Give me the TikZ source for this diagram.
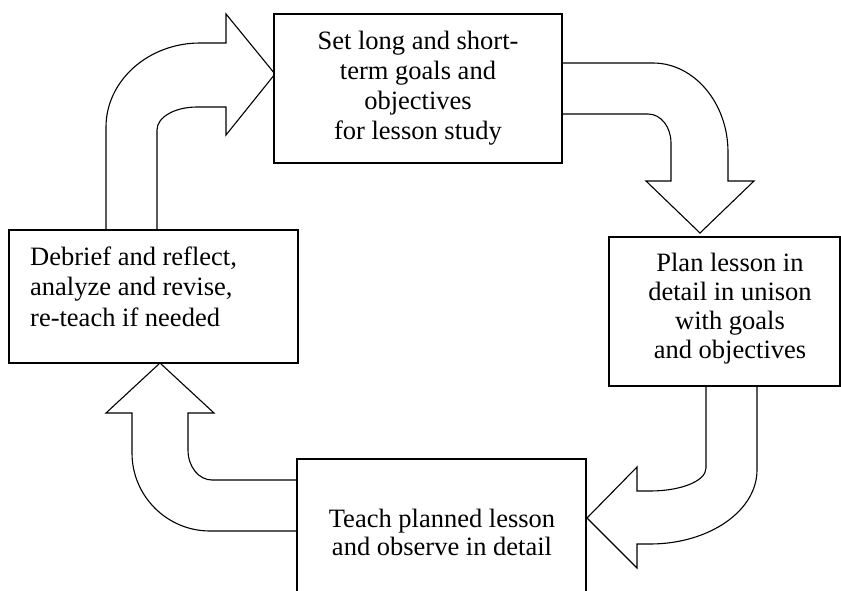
\documentclass[tikz,border=0pt]{standalone}
\usepackage{fontspec}
\setmainfont{Liberation Serif}
\begin{document}
\begin{tikzpicture}[x=1pt,y=-1pt,
  boxstyle/.style={draw, line width=1.4pt, fill=white},
  arrowshape/.style={draw, line width=1.1pt, line join=miter, fill=white},
  txt/.style={inner sep=0pt, font=\fontsize{26.5}{30}\selectfont}]
\useasboundingbox (0,0) rectangle (841,590);

% arrows (drawn first)
% D -> A
\draw[arrowshape] (106,230) -- (106,127) .. controls (106,81) and (148,43) .. (200,43)
  -- (226,43) -- (226,14) -- (275,74) -- (226,135) -- (226,107) -- (197,107)
  .. controls (175,107) and (157,117) .. (157,130) -- (157,230);
% A -> B
\draw[arrowshape] (562,63) -- (653,63) .. controls (694,63) and (728,103) .. (728,152)
  -- (728,181) -- (754,181) -- (700,233) -- (646,181) -- (671,181) -- (671,143)
  .. controls (671,127) and (661,114) .. (648,114) -- (562,114);
% B -> C
\draw[arrowshape] (706,386) -- (706,468) .. controls (706,481) and (681,491) .. (650,491)
  -- (637,491) -- (637,467) -- (587,518) -- (637,568) -- (637,544) -- (650,544)
  .. controls (709,544) and (757,511) .. (757,470) -- (757,386);
% C -> D
\draw[arrowshape] (297,480) -- (212,480) .. controls (199,480) and (188,467) .. (188,450)
  -- (188,413) -- (214,413) -- (160,363) -- (106,413) -- (132,413) -- (132,453)
  .. controls (132,496) and (167,531) .. (210,531) -- (297,531);

% boxes
\draw[boxstyle] (274,14) rectangle (562,163);
\draw[boxstyle] (609,237) rectangle (840,386);
\draw[boxstyle] (297,459) rectangle (586,600);
\draw[boxstyle] (9,230) rectangle (298,363);

% texts (base anchor = baseline of last line)
\node[txt, align=center, anchor=base] (ta) at (418,139) {Set long and short-\\term goals and\\objectives\\for lesson study};
\node[txt, align=center, anchor=base, font=\fontsize{26.5}{29}\selectfont] (tb) at (730,358) {Plan lesson in\\detail in unison\\with goals\\and objectives};
\node[txt, align=center, anchor=base, font=\fontsize{26.5}{28}\selectfont] (tc) at (442,555) {Teach planned lesson\\and observe in detail};
\node[txt, align=left, anchor=base west, font=\fontsize{26.5}{30.5}\selectfont] (td) at (30,326) {Debrief and reflect,\\analyze and revise,\\re-teach if needed};
\end{tikzpicture}
\end{document}
